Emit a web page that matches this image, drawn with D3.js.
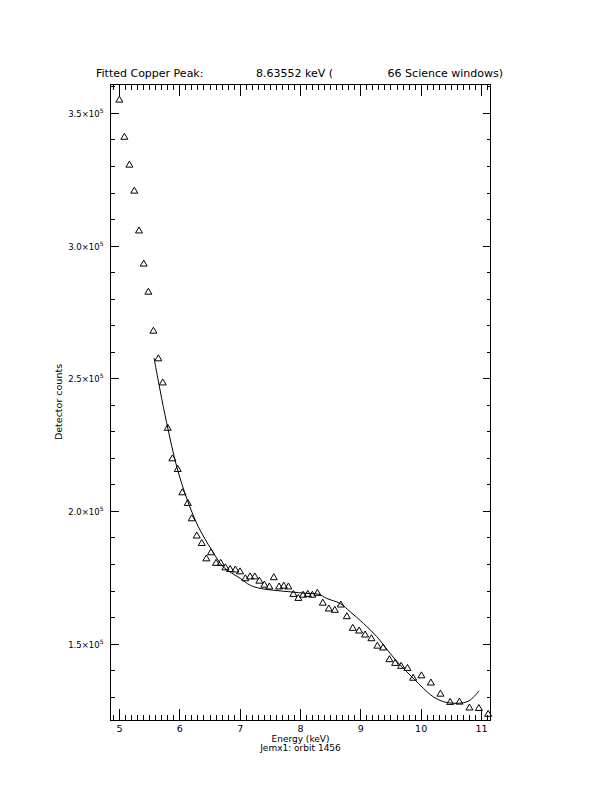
<!DOCTYPE html>
<html>
<head>
<meta charset="utf-8">
<script src="https://cdn.jsdelivr.net/npm/d3@7/dist/d3.min.js"></script>
<style>
  html, body { margin: 0; padding: 0; background: #fff; }
  svg { display: block; }
  text { font-family: "DejaVu Sans", sans-serif; fill: #000; }
</style>
</head>
<body>
<script>
// ---------------- DATA ----------------
const energyKeV = [4.997, 5.080, 5.163, 5.245, 5.323, 5.401, 5.478, 5.561, 5.643, 5.716,
  5.799, 5.876, 5.965, 6.041, 6.131, 6.197, 6.280, 6.363, 6.439, 6.517,
  6.600, 6.678, 6.755, 6.833, 6.920, 6.998, 7.086, 7.164, 7.242, 7.318,
  7.401, 7.484, 7.557, 7.645, 7.723, 7.799, 7.882, 7.965, 8.043, 8.121,
  8.197, 8.280, 8.370, 8.469, 8.569, 8.668, 8.768, 8.867, 8.972, 9.071,
  9.176, 9.275, 9.370, 9.474, 9.569, 9.668, 9.773, 9.867, 10.005, 10.161,
  10.320, 10.481, 10.635, 10.801, 10.957, 11.111];
const detectorCounts = [355400, 341400, 330900, 321100, 306100, 293600, 283000, 268300, 257900, 248800,
  231700, 220200, 216200, 207400, 203400, 197600, 191100, 188300, 182500, 184800,
  180800, 180800, 179100, 178500, 178300, 177600, 175000, 175700, 175700, 174100,
  172600, 171900, 175400, 171900, 172200, 171900, 169100, 167600, 168800, 169100,
  168800, 169500, 165800, 163600, 163100, 165100, 160700, 156300, 155300, 153800,
  152400, 149600, 148900, 144500, 143100, 142000, 141200, 137500, 138400, 135700,
  131500, 128400, 128500, 126300, 126100, 123900];

const fitKeV = [5.572, 5.672, 5.783, 5.949, 6.114, 6.307, 6.529, 6.721, 6.998, 7.164,
  7.330, 7.551, 7.828, 8.104, 8.297, 8.436, 8.657, 8.823, 9.043, 9.265,
  9.486, 9.652, 9.872, 10.038, 10.204, 10.370, 10.536, 10.701, 10.813, 10.962];
const fitCounts = [257800, 245700, 233200, 216800, 204900, 194200, 185400, 179100, 174800, 172200,
  171000, 170300, 169700, 169100, 168800, 167200, 165300, 162200, 157800, 152800,
  146500, 142100, 137100, 133300, 130100, 128300, 127700, 127900, 128900, 132400];

const xMajorTicks = [5, 6, 7, 8, 9, 10, 11];
const xTickLabels = ["5", "6", "7", "8", "9", "10", "11"];
const yMajorTicks = [150000, 200000, 250000, 300000, 350000];
const yTickMantissa = ["1.5", "2.0", "2.5", "3.0", "3.5"];
const yTickExponent = "5";

const titleParts = ["Fitted Copper Peak:", "8.63552 keV (", "66 Science windows)"];
const xTitle = "Energy (keV)";
const xSubTitle = "Jemx1: orbit 1456";
const yTitle = "Detector counts";

// ---------------- LAYOUT ----------------
const W = 612, H = 792;
const L = 110.5, R = 490.5, T = 84, B = 720.5;

const svg = d3.select("body").append("svg")
  .attr("width", W).attr("height", H)
  .attr("viewBox", `0 0 ${W} ${H}`);
svg.append("rect").attr("width", W).attr("height", H).attr("fill", "#fff");

const x = d3.scaleLinear().domain([4.85, 11.15]).range([L, R]);
const y = d3.scaleLinear().domain([121200, 361100]).range([B, T]);

const xMinor = d3.range(49, 112).map(d => d / 10).filter(d => !xMajorTicks.includes(d));
const yMinor = d3.range(13, 37).map(d => d * 10000).filter(d => !yMajorTicks.includes(d));

function styleAxis(g) {
  g.select(".domain").remove();
  g.selectAll(".tick line").attr("stroke", "#000").attr("stroke-width", 1)
    .attr("shape-rendering", "crispEdges");
}

// bottom
svg.append("g").attr("transform", `translate(0,${B})`)
  .call(d3.axisBottom(x).tickValues(xMajorTicks).tickSizeInner(-12).tickSizeOuter(0)
    .tickPadding(5).offset(0).tickFormat((d, i) => xTickLabels[i]))
  .call(styleAxis)
  .call(g => g.selectAll("text").attr("font-size", 9.5).attr("fill", "#000"));
svg.append("g").attr("transform", `translate(0,${B})`)
  .call(d3.axisBottom(x).tickValues(xMinor).tickSizeInner(-5.5).tickSizeOuter(0).offset(0).tickFormat(""))
  .call(styleAxis);
// top
svg.append("g").attr("transform", `translate(0,${T})`)
  .call(d3.axisTop(x).tickValues(xMajorTicks).tickSizeInner(-12).tickSizeOuter(0).offset(0).tickFormat(""))
  .call(styleAxis);
svg.append("g").attr("transform", `translate(0,${T})`)
  .call(d3.axisTop(x).tickValues(xMinor).tickSizeInner(-5.5).tickSizeOuter(0).offset(0).tickFormat(""))
  .call(styleAxis);
// left
svg.append("g").attr("transform", `translate(${L},0)`)
  .call(d3.axisLeft(y).tickValues(yMajorTicks).tickSizeInner(-8).tickSizeOuter(0).offset(0).tickFormat(""))
  .call(styleAxis);
svg.append("g").attr("transform", `translate(${L},0)`)
  .call(d3.axisLeft(y).tickValues(yMinor).tickSizeInner(-4).tickSizeOuter(0).offset(0).tickFormat(""))
  .call(styleAxis);
// right
svg.append("g").attr("transform", `translate(${R},0)`)
  .call(d3.axisRight(y).tickValues(yMajorTicks).tickSizeInner(-8).tickSizeOuter(0).offset(0).tickFormat(""))
  .call(styleAxis);
svg.append("g").attr("transform", `translate(${R},0)`)
  .call(d3.axisRight(y).tickValues(yMinor).tickSizeInner(-4).tickSizeOuter(0).offset(0).tickFormat(""))
  .call(styleAxis);

// frame
svg.append("rect").attr("x", L).attr("y", T).attr("width", R - L).attr("height", B - T)
  .attr("fill", "none").attr("stroke", "#000").attr("stroke-width", 1)
  .attr("shape-rendering", "crispEdges");

// y tick labels with exponent
const yl = svg.append("g").selectAll("text").data(yMajorTicks).join("text")
  .attr("x", 103.5).attr("y", d => y(d) + 3.5)
  .attr("text-anchor", "end").attr("font-size", 8.5);
yl.append("tspan").text((d, i) => yTickMantissa[i] + "×10");
yl.append("tspan").attr("dy", -4).attr("font-size", 6).text(yTickExponent);

// titles
const titleY = 77;
svg.append("text").attr("x", 96).attr("y", titleY).attr("font-size", 11).text(titleParts[0]);
svg.append("text").attr("x", 256).attr("y", titleY).attr("font-size", 11).text(titleParts[1]);
svg.append("text").attr("x", 503).attr("y", titleY).attr("font-size", 11).attr("text-anchor", "end").text(titleParts[2]);

svg.append("text").attr("x", (L + R) / 2).attr("y", 741.5).attr("text-anchor", "middle")
  .attr("font-size", 9).text(xTitle);
svg.append("text").attr("x", (L + R) / 2).attr("y", 751).attr("text-anchor", "middle")
  .attr("font-size", 9).text(xSubTitle);
svg.append("text").attr("transform", "translate(62,402) rotate(-90)").attr("text-anchor", "middle")
  .attr("font-size", 9.5).text(yTitle);

// fit curve
const fitData = fitKeV.map((k, i) => [k, fitCounts[i]]);
svg.append("path").datum(fitData)
  .attr("fill", "none").attr("stroke", "#000").attr("stroke-width", 1)
  .attr("d", d3.line().x(d => x(d[0])).y(d => y(d[1])).curve(d3.curveCatmullRom.alpha(0.5)));

// data triangles
const tri = "M0,-3 L3.5,3 L-3.5,3 Z";
svg.append("g").selectAll("path").data(energyKeV.map((k, i) => [k, detectorCounts[i]]))
  .join("path")
  .attr("transform", d => `translate(${x(d[0])},${y(d[1])})`)
  .attr("d", tri).attr("fill", "none").attr("stroke", "#000").attr("stroke-width", 1);
</script>
</body>
</html>
